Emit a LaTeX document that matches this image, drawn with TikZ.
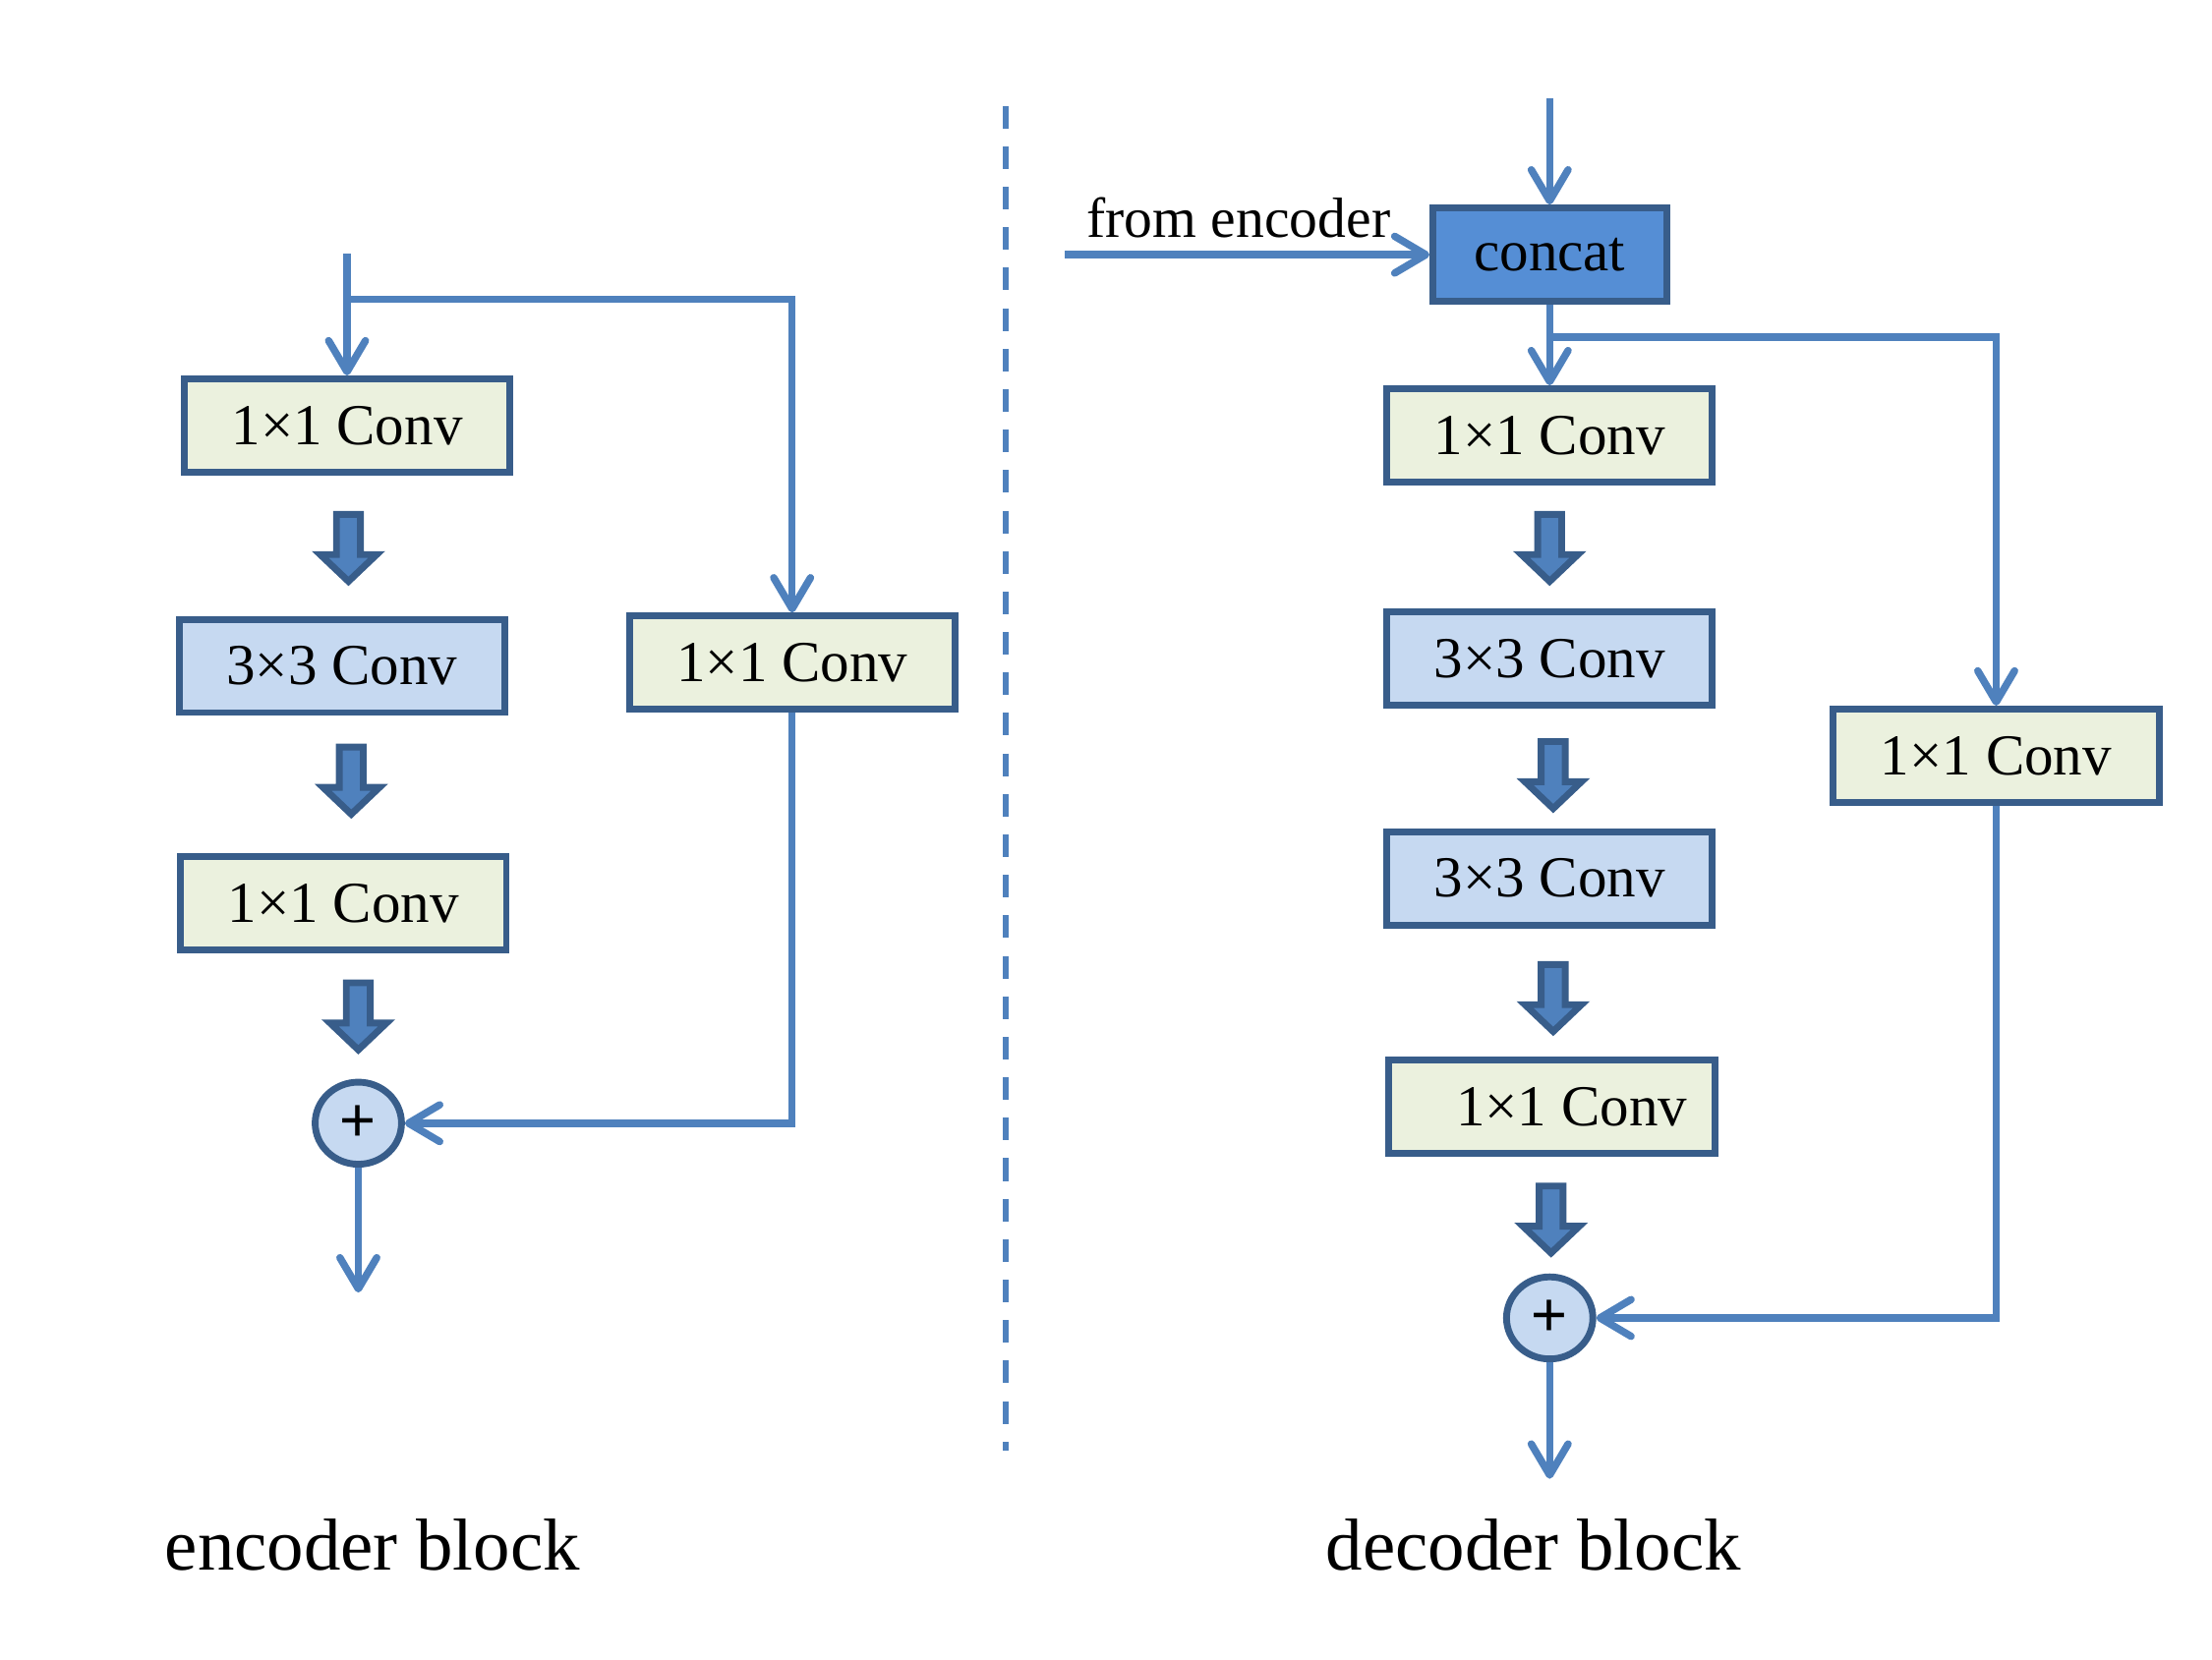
\documentclass[tikz,border=0pt]{standalone}
\usepackage{fontspec}
\setmainfont{Liberation Serif}
\newfontfamily\plusfont{Liberation Sans}
\usetikzlibrary{arrows.meta,shapes.geometric}
\definecolor{linec}{HTML}{4F81BD}
\definecolor{bordc}{HTML}{385D8A}
\definecolor{greenf}{HTML}{EBF1DE}
\definecolor{bluef}{HTML}{C6D9F1}
\definecolor{concatf}{HTML}{558ED5}
\tikzset{
  convbox/.style={draw=bordc, line width=2.4pt, minimum width=115pt, minimum height=32.9pt, inner sep=0pt, font=\fontsize{20.5}{24}\selectfont},
  gbox/.style={convbox, fill=greenf},
  bbox/.style={convbox, fill=bluef},
  sumnode/.style={ellipse, draw=bordc, fill=bluef, line width=2.4pt, minimum width=30.5pt, minimum height=29pt, inner sep=0pt, font=\plusfont\fontsize{22}{24}\selectfont},
  conn/.style={draw=linec, line width=2.6pt, -{Straight Barb[length=11pt,width=13pt,round]}},
  blk/.style={fill=linec, draw=bordc, line width=2.4pt, line join=miter},
  title/.style={font=\fontsize{26}{30}\selectfont, inner sep=0pt}
}
\newcommand\blkarrow[2]{%
  \path[blk] (#1-8.5,#2+2.5) -- (#1+8.5,#2+2.5) -- (#1+8.5,#2+31) -- (#1+20,#2+31) -- (#1,#2+50) -- (#1-20,#2+31) -- (#1-8.5,#2+31) -- cycle;}
\begin{document}
\begin{tikzpicture}[x=0.49825pt,y=-0.4985pt]
\useasboundingbox (0,0) rectangle (1568.0,1175.9);
% ---------- encoder ----------
\node[gbox] (A1) at (246,301.5) {1×1 Conv};
\node[bbox] (A2) at (242.5,472) {3×3 Conv};
\node[gbox] (A3) at (243.5,640) {1×1 Conv};
\node[gbox] (AS) at (561.5,469.5) {1×1 Conv};
\node[sumnode] (cA) at (254,796) {+};
\coordinate (inA) at (246,180);
\coordinate (brA) at (246,212);
\coordinate (outA) at (254,916);
\draw[conn] (inA) -- (A1.north);
\draw[conn] (brA) -| (AS.north);
\draw[conn] (AS.south) |- (cA.east);
\draw[conn] (cA.south) -- (outA);
\blkarrow{247}{362}
\blkarrow{249}{527}
\blkarrow{254}{694}
\node[title] (encT) at (264,1095) {encoder block};
% ---------- divider ----------
\coordinate (dT) at (713,75);
\coordinate (dB) at (713,1028);
\draw[draw=linec, line width=2pt, dash pattern=on 8pt off 6.3pt] (dT) -- (dB);
% ---------- decoder ----------
\node[draw=bordc, line width=2.4pt, fill=concatf, minimum width=82.5pt, minimum height=33pt, inner sep=0pt, font=\fontsize{20.5}{24}\selectfont] (cc) at (1098.5,180.5) {concat};
\node[gbox] (B1) at (1098.5,308.5) {1×1 Conv};
\node[bbox] (B2) at (1098.5,466.5) {3×3 Conv};
\node[bbox] (B3) at (1098.5,622.5) {3×3 Conv};
\node[gbox] (B4) at (1100,784.5) {\hspace*{14pt}1×1 Conv};
\node[gbox] (BS) at (1415,535.5) {1×1 Conv};
\node[sumnode] (cB) at (1098.5,934) {+};
\coordinate (inB) at (1098.5,70);
\coordinate (fromB) at (755,180.5);
\coordinate (brB) at (1098.5,239);
\coordinate (outB) at (1098.5,1048);
\node[font=\fontsize{20}{24}\selectfont, inner sep=0pt] (fromT) at (878,154) {from encoder};
\draw[conn] (inB) -- (cc.north);
\draw[conn] (fromB) -- (cc.west);
\draw[conn] (cc.south) -- (B1.north);
\draw[conn] (brB) -| (BS.north);
\draw[conn] (BS.south) |- (cB.east);
\draw[conn] (cB.south) -- (outB);
\blkarrow{1098.5}{362}
\blkarrow{1101}{523}
\blkarrow{1101}{681}
\blkarrow{1099.5}{838}
\node[title] (decT) at (1087,1095) {decoder block};
\end{tikzpicture}
\end{document}
